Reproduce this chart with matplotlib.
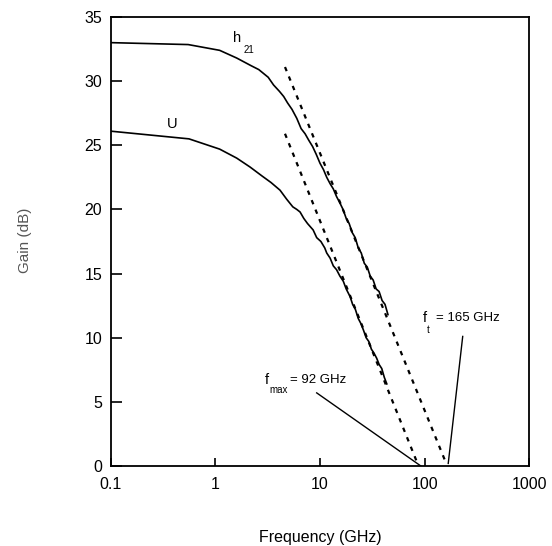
import matplotlib
matplotlib.use("Agg")
import matplotlib.pyplot as plt

plt.rcParams['font.family'] = ['Liberation Sans', 'DejaVu Sans']

# measured current gain h21 (dB) vs frequency (GHz)
h21_f = [0.1, 0.55, 1.1, 1.6, 2.2, 2.6, 3.2, 3.6, 4.1, 4.5, 4.9, 5.4, 6.0, 6.6,
         7.2, 7.8, 8.5, 9.2, 10.0, 10.8, 11.6, 12.5, 13.4, 14.4, 15.5, 16.6,
         17.8, 19.0, 20.3, 21.7, 23.2, 24.8, 26.5, 28.3, 30.2, 32.2, 34.4,
         36.7, 39.2, 41.8, 44.6]
h21_db = [33.0, 32.85, 32.4, 31.8, 31.2, 30.9, 30.3, 29.7, 29.2, 28.8, 28.3,
          27.8, 27.1, 26.3, 25.9, 25.4, 24.9, 24.3, 23.6, 23.1, 22.5, 22.0,
          21.6, 21.0, 20.5, 20.0, 19.3, 18.9, 18.2, 17.8, 17.0, 16.6, 15.8,
          15.5, 14.8, 14.5, 13.8, 13.6, 12.9, 12.6, 11.8]

# measured unilateral gain U
u_f = [0.1, 0.56, 1.1, 1.6, 2.15, 2.8, 3.4, 4.15, 4.8, 5.5, 6.0, 6.45, 7.0,
       7.6, 8.6, 9.3, 10.2, 11.1, 11.6, 12.5, 13.4, 14.4, 15.5, 16.7, 17.8,
       19.4, 20.5, 21.8, 23.2, 24.6, 26.0, 27.6, 29.3, 31.0, 32.8, 34.8,
       36.8, 38.9, 41.2, 43.5]
u_db = [26.1, 25.5, 24.7, 24.0, 23.3, 22.6, 22.1, 21.5, 20.8, 20.2, 20.0,
        19.8, 19.3, 18.9, 18.4, 17.8, 17.5, 17.0, 16.6, 16.2, 15.6, 15.3,
        14.8, 14.4, 13.8, 13.2, 12.6, 12.2, 11.5, 11.1, 10.6, 10.0, 9.7, 9.1,
        8.8, 8.4, 7.9, 7.6, 6.9, 6.4]

# -20 dB/decade extrapolations (end points)
fit_h21_f = [4.63, 157]
fit_h21_db = [31.1, 0.4]
fit_u_f = [4.63, 84]
fit_u_db = [25.9, 0.35]

# pointer lines for the annotations
fmax_line_f = [9.3, 92]
fmax_line_db = [5.7, 0.0]
ft_line_f = [231, 168]
ft_line_db = [10.1, 0.2]

fig = plt.figure(figsize=(5.52, 5.46), dpi=100)
ax = fig.add_axes([0.2005, 0.1465, 0.7584, 0.8224])

ax.plot(h21_f, h21_db, color='black', lw=1.2)
ax.plot(u_f, u_db, color='black', lw=1.2)
ax.plot(fit_h21_f, fit_h21_db, color='black', lw=1.6, linestyle=(0, (2, 2.6)))
ax.plot(fit_u_f, fit_u_db, color='black', lw=1.6, linestyle=(0, (2, 2.6)))
ax.plot(fmax_line_f, fmax_line_db, color='black', lw=1.0)
ax.plot(ft_line_f, ft_line_db, color='black', lw=1.0)

ax.set_xscale('log')
ax.set_xlim(0.1, 1000)
ax.set_ylim(0, 35)
ax.set_xticks([0.1, 1, 10, 100, 1000])
ax.set_xticklabels(['0.1', '1', '10', '100', '1000'])
ax.set_yticks(range(0, 36, 5))
ax.minorticks_off()
ax.tick_params(axis='both', direction='in', width=1.2,
               labelsize=11.5, colors='black')
ax.tick_params(axis='x', length=6, pad=8)
ax.tick_params(axis='y', length=8, pad=6)
for s in ax.spines.values():
    s.set_linewidth(1.3)

# curve labels
ax.text(1.6, 33.4, 'h', fontsize=10.5, ha='center', va='center')
ax.text(2.1, 32.4, '21', fontsize=7, ha='center', va='center')
ax.text(0.39, 26.65, 'U', fontsize=10.5, ha='center', va='center')
ax.text(96, 11.5, 'f', fontsize=10.5, ha='left', va='center')
ax.text(104, 10.6, 't', fontsize=7, ha='left', va='center')
ax.text(128, 11.5, '= 165 GHz', fontsize=9.5, ha='left', va='center')
ax.text(2.95, 6.7, 'f', fontsize=10.5, ha='left', va='center')
ax.text(3.3, 5.95, 'max', fontsize=7, ha='left', va='center')
ax.text(5.2, 6.7, '= 92 GHz', fontsize=9.5, ha='left', va='center')

ax.set_xlabel('Frequency (GHz)', fontsize=11.5, labelpad=27)
fig.text(0.045, 0.56, 'Gain (dB)', rotation=90, fontsize=11, color='#555555',
         ha='center', va='center')

fig.savefig('out.png', dpi=100)
